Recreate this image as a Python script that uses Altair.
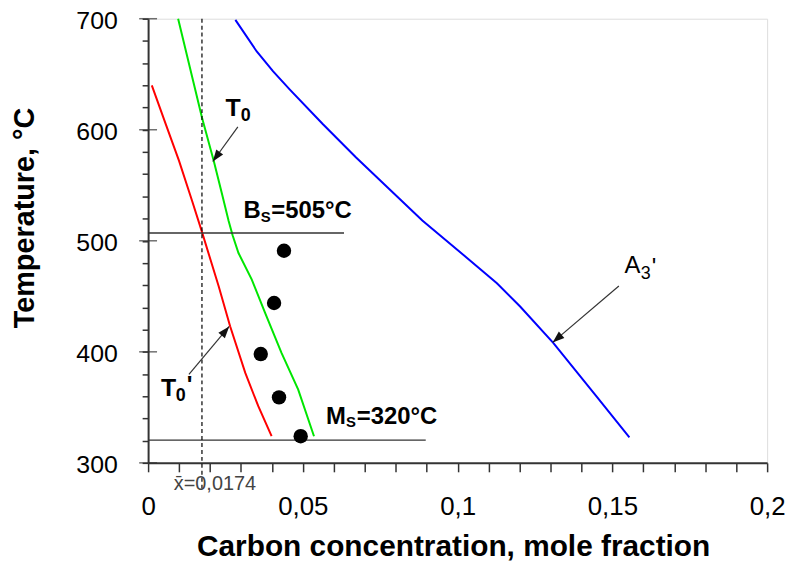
import altair as alt
import pandas as pd
import numpy as np

# ---------------- data ----------------
red_x = [0.0012, 0.0057, 0.0100, 0.0142, 0.0174, 0.0228, 0.0265, 0.0314, 0.0356, 0.0399]
red_T = [640, 605, 572, 536, 508, 459, 423, 381, 351, 324]

green_x = [0.0097, 0.0174, 0.0212, 0.0239, 0.0260, 0.0273, 0.0292, 0.0335, 0.0378, 0.0431, 0.0485, 0.0536]
green_T = [700, 611, 572, 542, 518, 505, 489, 465, 435, 399, 366, 324]

blue_x = [0.0282, 0.0351, 0.0404, 0.0458, 0.0565, 0.0672, 0.0779, 0.0886,
          0.1020, 0.1127, 0.1202, 0.1309, 0.1448, 0.1555]
blue_T = [699, 670.5, 652.6, 636.2, 604.9, 575.0, 546.7, 518.3,
          487, 461.7, 440.8, 408, 360.2, 323]

dots_x = [0.0439, 0.0407, 0.0364, 0.0423, 0.0493]
dots_T = [491, 444, 398, 359, 324]

hline_T = [507, 320.5]
hline_x_end = [0.0633, 0.0897]

xbar = 0.0174
xbar_T = [700, 277]

# text pieces: text, x, T, size
bold_text = ["T", "0", "B", "S", "=505°C", "T", "0", "'", "M", "S", "=320°C"]
bold_x = [0.0250, 0.0299, 0.0308, 0.0364, 0.0398, 0.0042, 0.0089, 0.0125, 0.0575, 0.0639, 0.0674]
bold_T = [612.3, 607.8, 520.1, 516.6, 520.1, 359.9, 355.8, 363.0, 334.9, 332.4, 334.9]
bold_size = [25, 18, 24, 15, 24, 25, 18, 24, 24, 15, 24]

norm_text = ["A", "3", "'", "x̄=0,0174"]
norm_x = [0.1539, 0.1592, 0.1627, 0.0083]
norm_T = [470.6, 465.3, 469.3, 275.5]
norm_size = [24, 18, 24, 20]
norm_color = ["#000000", "#000000", "#000000", "#444444"]

# arrows: start -> tip
arr_x0 = [0.0290, 0.0132, 0.1521]
arr_T0 = [602.5, 379.6, 459.3]
arr_x1 = [0.0209, 0.0262, 0.1307]
arr_T1 = [571.4, 422.9, 408.5]

x_ticks = [round(0.01 * i, 2) for i in range(21)]
y_ticks = list(range(300, 701, 20))
y_major = [300, 400, 500, 600, 700]

# ---------------- layout ----------------
W, H = 623, 447
XD, YD = [0, 0.2], [300, 700]
FONT = "Liberation Sans"

xs = alt.Scale(domain=XD, nice=False, zero=False)
ys = alt.Scale(domain=YD, nice=False, zero=False)

x_axis = alt.Axis(
    values=x_ticks,
    labelExpr="abs(datum.value*20 - round(datum.value*20)) < 1e-6 ? replace(toString(datum.value), '.', ',') : ''",
    title="Carbon concentration,  mole fraction",
    titleFont=FONT, titleFontSize=30, titleFontWeight="bold", titleColor="#000",
    titleX=307, titleY=93, titleBaseline="alphabetic", titleAnchor="middle", titleAlign="center",
    labelFont=FONT, labelFontSize=26, labelColor="#000", labelPadding=22, labelBaseline="top",
    labelFlush=False, labelOverlap=False,
    tickSize=9, tickColor="#333", tickWidth=1.5,
    domainColor="#333", domainWidth=2, grid=False,
)
y_axis = alt.Axis(
    values=y_ticks,
    labelExpr="datum.value % 100 == 0 ? toString(datum.value) : ''",
    title="Temperature, °C",
    titleFont=FONT, titleFontSize=29, titleFontWeight="bold", titleColor="#000",
    titleX=-115, titleY=200, titleBaseline="alphabetic", titleAngle=270, titleAlign="center",
    labelFont=FONT, labelFontSize=25, labelColor="#000", labelPadding=25, labelBaseline="middle",
    labelOffset=2, labelFlush=False, labelOverlap=False,
    tickSize=6, tickColor="#333", tickWidth=1.5,
    domainColor="#333", domainWidth=2, grid=False,
)

def X(field="x"):
    return alt.X(f"{field}:Q", scale=xs, axis=x_axis)

def Y(field="T"):
    return alt.Y(f"{field}:Q", scale=ys, axis=y_axis)

def line_df(xv, tv):
    return pd.DataFrame({"x": xv, "T": tv, "o": list(range(len(xv)))})

red = alt.Chart(line_df(red_x, red_T)).mark_line(color="#ff0000", strokeWidth=2).encode(
    x=X(), y=Y(), order="o:Q")
green = alt.Chart(line_df(green_x, green_T)).mark_line(color="#00e600", strokeWidth=2).encode(
    x=X(), y=Y(), order="o:Q")
blue = alt.Chart(line_df(blue_x, blue_T)).mark_line(color="#0000ff", strokeWidth=2).encode(
    x=X(), y=Y(), order="o:Q")

dots = alt.Chart(pd.DataFrame({"x": dots_x, "T": dots_T})).mark_circle(
    size=210, color="#000", opacity=1).encode(x=X(), y=Y())

hl = alt.Chart(pd.DataFrame({"x": [0, 0], "x2": hline_x_end, "T": hline_T})).mark_rule(
    color="#333", strokeWidth=1.3).encode(x=X(), x2="x2:Q", y=Y())

vl = alt.Chart(pd.DataFrame({"x": [xbar], "T": [xbar_T[0]], "T2": [xbar_T[1]]})).mark_rule(
    color="#000", strokeWidth=1.2, strokeDash=[4, 3]).encode(x=X(), y=Y(), y2="T2:Q")

ymaj = alt.Chart(pd.DataFrame({"x": [0] * len(y_major), "T": y_major})).mark_tick(
    orient="horizontal", size=18, thickness=1.5, color="#333").encode(x=X(), y=Y())

bold = alt.Chart(pd.DataFrame({"x": bold_x, "T": bold_T, "t": bold_text, "s": bold_size})).mark_text(
    font=FONT, fontWeight="bold", align="left", baseline="alphabetic", color="#000").encode(
    x=X(), y=Y(), text="t:N", size=alt.Size("s:Q", scale=None))

norm = alt.Chart(pd.DataFrame({"x": norm_x, "T": norm_T, "t": norm_text, "s": norm_size,
                               "c": norm_color})).mark_text(
    font=FONT, align="left", baseline="alphabetic").encode(
    x=X(), y=Y(), text="t:N", size=alt.Size("s:Q", scale=None), color=alt.Color("c:N", scale=None))

px_x = W / (XD[1] - XD[0])
px_T = H / (YD[1] - YD[0])
dx = (np.array(arr_x1) - np.array(arr_x0)) * px_x
dy = -(np.array(arr_T1) - np.array(arr_T0)) * px_T
ang = np.mod(np.degrees(np.arctan2(dx, -dy)), 360)

adf = pd.DataFrame({"x": arr_x0, "T": arr_T0, "x2": arr_x1, "T2": arr_T1,
                    "xt": arr_x1, "Tt": arr_T1, "a": ang})
arrow_lines = alt.Chart(adf).mark_rule(color="#333", strokeWidth=1.2).encode(
    x=X(), y=Y(), x2="x2:Q", y2="T2:Q")
arrow_heads = alt.Chart(adf).mark_point(
    shape="M0,0L-0.36,1L0.36,1Z", filled=True, size=560, color="#111", opacity=1, strokeWidth=0).encode(
    x=X("xt"), y=Y("Tt"), angle=alt.Angle("a:Q", scale=None))

chart = alt.layer(
    red, green, blue, hl, vl, ymaj, dots, arrow_lines, arrow_heads, bold, norm
).properties(
    width=W, height=H,
    autosize=alt.AutoSizeParams(type="none"),
    padding={"left": 141, "top": 9, "right": 20, "bottom": 99},
).configure_view(
    stroke="#8a8a8a", strokeWidth=2
).configure(background="white")

chart.save("out.html", embed_options={"renderer": "svg", "actions": False})
